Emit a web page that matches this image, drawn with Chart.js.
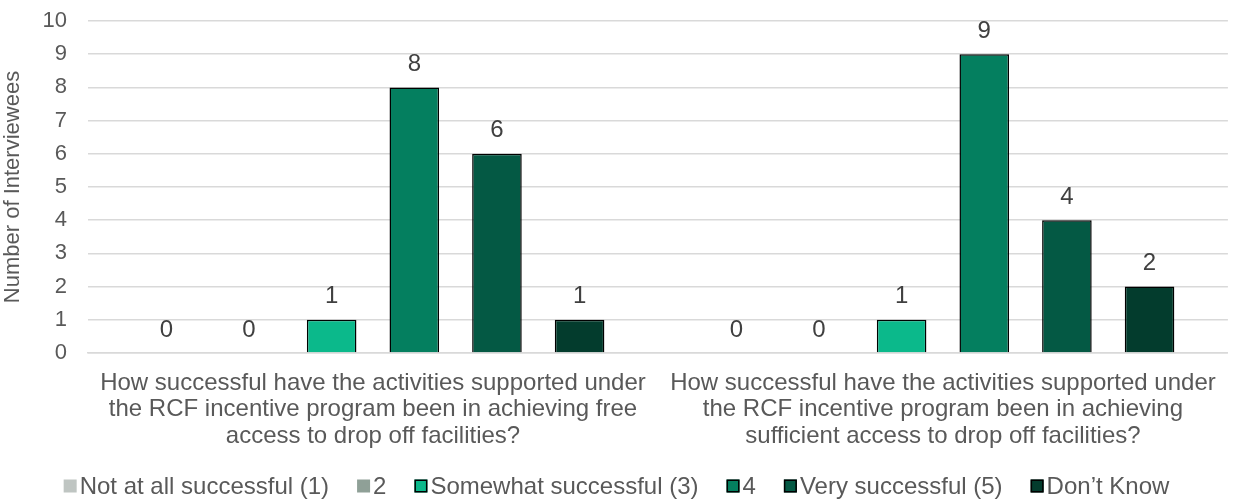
<!DOCTYPE html>
<html>
<head>
<meta charset="utf-8">
<style>
  body { margin: 0; background: #fff; }
  #wrap { width: 1233px; height: 502px; }
</style>
</head>
<body>
<div id="wrap"><canvas id="myChart"></canvas></div>
<script src="https://cdn.jsdelivr.net/npm/chart.js@4.4.1/dist/chart.umd.min.js"></script>
<script>
  const questions = [
    ['How successful have the activities supported under', 'the RCF incentive program been in achieving free', 'access to drop off facilities?'],
    ['How successful have the activities supported under', 'the RCF incentive program been in achieving', 'sufficient access to drop off facilities?']
  ]
  const ratings = ['Not at all successful (1)', '2', 'Somewhat successful (3)', '4', 'Very successful (5)', 'Don\u2019t Know']
  const notAtAll = [0, 0]
  const two = [0, 0]
  const somewhat = [1, 1]
  const four = [8, 9]
  const very = [6, 4]
  const dontKnow = [1, 2]
  const yTicks = [0, 1, 2, 3, 4, 5, 6, 7, 8, 9, 10]

  const fills = ['#bfc5c2', '#8fa097', '#0bb98b', '#047f5f', '#045944', '#033c2d']
  const outlined = [false, false, true, true, true, true]
  const seriesValues = [notAtAll, two, somewhat, four, very, dontKnow]

  const FONT = '"Liberation Sans", Arial, sans-serif'
  const TEXT = '#595959'

  // value labels above each bar
  const barLabels = {
    id: 'barLabels',
    afterDatasetsDraw(chart) {
      const ctx = chart.ctx
      ctx.save()
      ctx.font = '24px ' + FONT
      ctx.fillStyle = '#404040'
      ctx.textAlign = 'center'
      ctx.textBaseline = 'middle'
      chart.data.datasets.forEach((ds, i) => {
        chart.getDatasetMeta(i).data.forEach((bar, j) => {
          ctx.fillText(String(ds.data[j]), bar.x, bar.y - 23)
        })
      })
      ctx.restore()
    }
  }

  // legend row along the bottom, tight boxes like the office style
  const bottomLegend = {
    id: 'bottomLegend',
    afterDraw(chart) {
      const ctx = chart.ctx
      const box = 13, gap = 3, spacing = 28, cy = 486
      ctx.save()
      ctx.font = '24px ' + FONT
      ctx.textBaseline = 'middle'
      const widths = ratings.map(t => box + gap + ctx.measureText(t).width)
      const total = widths.reduce((a, b) => a + b, 0) + spacing * (ratings.length - 1)
      let x = (chart.width - total) / 2
      ratings.forEach((t, i) => {
        ctx.fillStyle = fills[i]
        ctx.fillRect(x, cy - box / 2, box, box)
        if (outlined[i]) {
          ctx.strokeStyle = '#000'
          ctx.lineWidth = 1.5
          ctx.strokeRect(x + 0.75, cy - box / 2 + 0.75, box - 1.5, box - 1.5)
        }
        ctx.fillStyle = TEXT
        ctx.fillText(t, x + box + gap, cy + 1)
        x += widths[i] + spacing
      })
      ctx.restore()
    }
  }

  const ctx = document.getElementById('myChart').getContext('2d')
  const chart = new Chart(ctx, {
    type: 'bar',
    data: {
      labels: questions,
      datasets: ratings.map((r, i) => ({
        label: r,
        data: seriesValues[i],
        backgroundColor: fills[i],
        borderColor: '#000',
        borderWidth: outlined[i] ? 1.5 : 0,
        borderSkipped: 'bottom',
        categoryPercentage: 0.87,
        barPercentage: 0.6
      }))
    },
    options: {
      responsive: true,
      maintainAspectRatio: false,
      animation: false,
      layout: { padding: { top: 21, right: 1, bottom: 44, left: 0 } },
      plugins: {
        legend: { display: false },
        tooltip: { enabled: false }
      },
      scales: {
        x: {
          grid: { display: false, drawTicks: false },
          border: { color: '#d9d9d9', width: 1.5 },
          ticks: {
            color: TEXT,
            font: { family: FONT, size: 24, lineHeight: 1.1 },
            padding: 17,
            maxRotation: 0
          },
          afterFit(s) { s.height = 105 }
        },
        y: {
          min: 0,
          max: 10,
          afterBuildTicks(s) { s.ticks = yTicks.map(v => ({ value: v })) },
          grid: { color: '#d9d9d9', lineWidth: 1.5, drawTicks: false },
          border: { display: false },
          ticks: {
            color: TEXT,
            font: { family: FONT, size: 22 },
            padding: 21
          },
          title: {
            display: true,
            text: 'Number of Interviewees',
            color: TEXT,
            font: { family: FONT, size: 22 },
            padding: { top: 0, bottom: 0 }
          },
          afterFit(s) {
            s.width = 88
            s.paddingTop = 0
            s.paddingBottom = 0
          }
        }
      }
    },
    plugins: [barLabels, bottomLegend]
  })
</script>
</body>
</html>
